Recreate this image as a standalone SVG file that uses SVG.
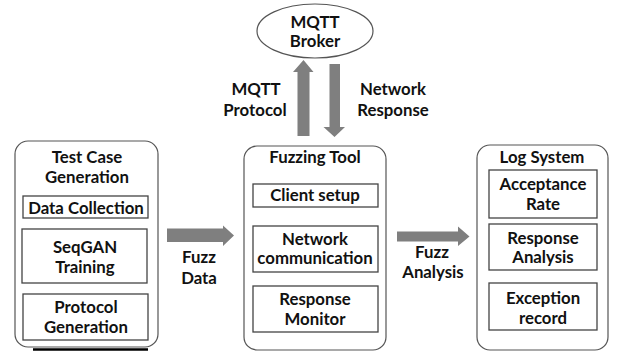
<svg xmlns="http://www.w3.org/2000/svg" width="623" height="352" viewBox="0 0 623 352">
<style>
text{font-family:"Lato","Liberation Sans",sans-serif;font-weight:700;font-size:16.8px;fill:#111;text-anchor:middle}
.outer{fill:#fff;stroke:#555;stroke-width:1.2}
.inner{fill:#fff;stroke:#444;stroke-width:1.3}
.arr{fill:#7f7f7f}
</style>
<rect width="623" height="352" fill="#fff"/>
<g id="broker">
<ellipse cx="315" cy="31" rx="58" ry="27" class="outer"/>
<text x="315" y="28">MQTT</text>
<text x="315" y="47">Broker</text>
</g>
<g id="testcase">
<rect x="15" y="141" width="143" height="206" rx="13" class="outer"/>
<text x="87" y="163">Test Case</text>
<text x="87" y="183">Generation</text>
<rect x="23" y="196" width="125" height="22" class="inner"/>
<text x="86" y="214">Data Collection</text>
<rect x="22" y="229" width="125" height="54" class="inner"/>
<text x="85" y="253">SeqGAN</text>
<text x="85" y="273">Training</text>
<rect x="23" y="294" width="125" height="46" class="inner"/>
<text x="86" y="313">Protocol</text>
<text x="86" y="333">Generation</text>
<line x1="33" y1="349.5" x2="148" y2="349.5" stroke="#000" stroke-width="2.5"/>
</g>
<g id="fuzzingtool">
<rect x="244" y="146" width="142" height="204" rx="13" class="outer"/>
<text x="315" y="163">Fuzzing Tool</text>
<rect x="253" y="184" width="125" height="23" class="inner"/>
<text x="315" y="201">Client setup</text>
<rect x="253" y="226" width="125" height="46" class="inner"/>
<text x="315" y="245">Network</text>
<text x="315" y="264">communication</text>
<rect x="253" y="286" width="125" height="46" class="inner"/>
<text x="315" y="305">Response</text>
<text x="315" y="325">Monitor</text>
</g>
<g id="logsystem">
<rect x="477" y="145" width="131" height="205" rx="13" class="outer"/>
<text x="542" y="163">Log System</text>
<rect x="489" y="170" width="108" height="48" class="inner"/>
<text x="543" y="190">Acceptance</text>
<text x="543" y="210">Rate</text>
<rect x="489" y="224" width="108" height="46" class="inner"/>
<text x="543" y="244">Response</text>
<text x="543" y="263">Analysis</text>
<rect x="489" y="283" width="108" height="47" class="inner"/>
<text x="543" y="304">Exception</text>
<text x="543" y="324">record</text>
</g>
<g id="connectors">
<polygon class="arr" points="297.5,136 309.5,136 309.5,72 313.5,72 303.5,60 293,72 297.5,72"/>
<polygon class="arr" points="329.5,64 340,64 340,127 345,127 334.5,137 323.5,127 329.5,127"/>
<polygon class="arr" points="167,228.5 223,228.5 223,225.5 234,235.5 223,246 223,242 167,242"/>
<polygon class="arr" points="397,231.5 458,231.5 458,226.5 469.5,236.5 458,246 458,241.5 397,241.5"/>
<text x="256" y="95">MQTT</text>
<text x="255" y="116">Protocol</text>
<text x="393" y="95">Network</text>
<text x="393" y="116">Response</text>
<text x="199" y="263">Fuzz</text>
<text x="199" y="284">Data</text>
<text x="432" y="258">Fuzz</text>
<text x="433" y="278">Analysis</text>
</g>
</svg>
